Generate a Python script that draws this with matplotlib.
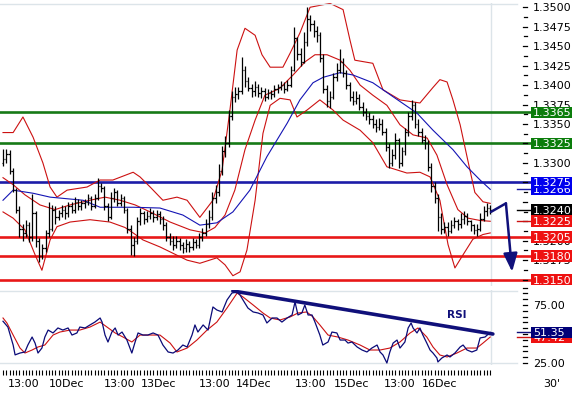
import numpy as np
import matplotlib
matplotlib.use("Agg")
import matplotlib.pyplot as plt
import matplotlib.transforms as mtransforms
from matplotlib.patches import Rectangle
from matplotlib.lines import Line2D

# ---------------- data (prices in pips above 1.3000) ----------------
BASE = 1.3
PIP = 1e-4

opens = [300,305,312,290,265,240,215,210,220,205,235,200,180,190,210,215,240,230,235,240,
         235,245,240,250,245,248,250,255,245,255,270,268,245,230,255,262,248,255,240,215,
         195,200,225,235,228,232,236,230,234,228,220,205,200,195,200,194,190,196,192,198,
         195,205,210,222,230,255,262,290,315,325,360,385,388,392,420,405,396,393,398,390,
         392,385,390,388,395,397,400,395,400,420,460,440,430,455,485,478,470,465,435,395,
         380,385,410,420,430,415,400,385,380,384,372,365,360,356,350,346,350,340,320,300,
         310,330,300,315,340,360,375,350,340,330,325,295,270,255,230,215,218,212,220,225,
         222,228,232,225,220,214,215,228,238,242]
highs = [318,318,316,293,268,244,222,226,224,260,238,204,196,214,250,246,244,240,246,244,
         250,250,256,254,252,254,260,258,260,281,274,270,248,262,268,265,260,258,242,220,
         205,230,242,238,238,242,240,240,238,232,224,210,206,206,204,198,202,200,204,202,
         210,216,228,240,262,272,298,322,335,368,392,398,398,436,425,410,402,405,402,398,
         396,395,394,400,402,405,404,406,424,475,462,448,468,501,490,484,476,468,440,400,
         392,415,428,446,435,420,404,392,392,388,378,370,366,362,356,358,356,345,326,318,
         338,332,320,345,366,381,378,356,345,336,330,300,276,260,236,224,224,226,230,228,
         236,238,236,226,222,222,235,244,248,246]
lows = [296,300,286,262,236,205,200,205,198,200,192,173,176,186,205,212,222,226,230,228,
        230,236,236,240,240,242,246,240,242,252,262,240,225,228,250,244,245,236,210,182,
        180,196,220,222,224,228,224,226,222,214,200,194,188,190,188,184,186,186,188,190,
        190,200,206,216,226,248,258,285,308,320,355,378,382,388,398,392,385,386,385,384,
        380,382,382,385,390,394,390,392,398,418,432,425,428,450,470,462,455,430,390,372,
        370,382,405,415,410,395,380,375,376,368,360,355,350,345,340,342,336,315,294,296,
        305,294,296,310,335,355,345,334,325,318,290,262,248,212,208,210,206,210,216,214,
        216,222,220,212,208,206,212,225,232,234]
closes = [305,312,290,265,240,215,210,220,205,235,200,180,190,210,215,240,230,235,240,235,
          245,240,250,245,248,250,255,245,255,270,268,245,230,255,262,248,255,240,215,195,
          200,225,235,228,232,236,230,234,228,220,205,200,195,200,194,190,196,192,198,195,
          205,210,222,230,255,262,290,315,325,360,385,388,392,420,405,396,393,398,390,392,
          385,390,388,395,397,400,395,400,420,460,440,430,455,485,478,470,465,435,395,380,
          385,410,420,430,415,400,385,380,384,372,365,360,356,350,346,350,340,320,300,310,
          330,300,315,340,360,375,350,340,330,325,295,270,255,230,215,218,212,220,225,222,
          228,232,225,220,214,215,228,238,242,240]

# Bollinger bands (sampled at bar positions) and moving average
bb_up_x = [0,3.1,6.1,9.2,12.2,14.4,16.5,19.6,25.7,29.7,33.6,39.8,41.9,45.0,48.9,53.2,56.3,60.2,64.2,67.0,
           69.4,71.6,74.0,77.1,79.2,81.7,85.6,87.8,90.8,93.9,100.0,104.0,106.1,107.6,113.1,116.2,121.4,
           127.5,131.5,133.6,135.8,137.6,139.8,141.9,144.3,146.8,149.0]
bb_up = [339,339,359,333,300,269,256,265,269,278,278,288,282,269,252,256,252,230,252,291,
         368,445,473,464,439,423,423,441,467,500,505,497,458,432,428,394,381,
         377,397,407,404,381,349,308,262,250,248]
bb_mid_x = [0,3.1,6.7,11.3,15.9,20.5,26.6,31.2,35.8,40.4,45.0,51.1,57.2,61.8,64.8,67.9,70.9,74.0,77.1,80.1,
            84.7,88.7,92.4,95.4,99.1,103.1,106.1,109.2,113.1,117.4,121.4,125.4,129.7,132.7,135.8,139.1,
            142.2,145.9,149.0]
bb_mid = [281,272,259,246,240,246,252,256,252,246,237,224,214,210,217,233,265,317,355,387,
          396,413,430,439,439,432,419,400,387,374,349,336,332,310,272,240,
          229,226,225]
bb_lo_x = [0,3.1,6.7,9.8,11.9,14.4,16.5,20.5,26.6,32.7,37.3,39.8,42.8,48.0,56.3,60.2,65.4,67.9,70.3,72.5,
           74.6,77.1,79.5,81.7,84.7,87.8,89.9,93.0,96.9,100.9,104.0,109.2,113.1,117.4,123.5,127.5,130.6,
           133.6,136.1,138.2,140.7,143.7,146.8,149.0]
bb_lo = [237,229,214,182,162,201,218,224,227,224,217,210,201,192,175,171,178,169,155,160,
         188,252,338,374,383,381,359,368,381,368,355,342,326,295,287,288,282,
         252,195,165,182,202,208,210]
ma_x = [0,3.1,9.2,14.4,24.5,29.7,39.8,48.0,55.0,60.2,65.4,70.3,75.5,80.7,86.9,90.8,94.8,97.9,103.1,107.0,
        113.1,119.3,126.6,131.5,137.6,141.9,145.9,149.0]
ma = [252,265,261,256,252,243,243,242,233,220,223,237,265,308,351,381,403,410,416,413,
      403,385,364,342,317,295,278,266]

# horizontal levels
green_levels = [1.3365, 1.3325]
blue_levels = [1.3275]
red_levels = [1.3205, 1.3180, 1.3150]
ma_last = 1.3266
last_price = 1.3240
bb_mid_last = 1.3225

# forecast arrow (bar position, price)
fc_x = [149.2, 153.8, 155.7]
fc_y = [1.3237, 1.3248, 1.3160]

# RSI and its signal line
rsi_x = [0,1.5,3.1,3.7,5.2,6.7,7.6,8.9,9.8,10.7,11.9,12.8,13.8,15.3,16.8,18.3,19.9,21.1,22.6,23.5,
         25.1,26.6,28.1,29.7,30.3,31.2,32.1,33.3,34.3,35.2,36.4,37.9,39.4,40.4,41.3,42.8,44.3,45.9,47.4,48.9,
         50.5,52.0,53.5,55.0,56.3,57.8,58.7,59.6,61.2,62.7,64.2,65.4,67.0,68.5,70.0,71.6,72.5,73.4,74.9,76.5,
         78.0,79.5,80.7,82.3,83.8,85.3,86.9,88.4,89.3,90.2,91.4,92.3,93.3,94.5,95.4,96.9,97.8,99.4,100.6,102.1,
         103.1,104.6,105.5,106.7,108.3,109.8,111.3,112.8,114.4,115.3,116.2,117.4,118.3,119.3,120.5,121.4,122.9,
         123.9,124.8,125.4,126.6,127.5,128.4,129.6,130.6,131.5,132.7,133.0,134.2,135.8,136.7,138.2,139.8,140.7,
         141.9,143.4,144.9,145.9,147.4,149.0]
rsi = [61,56,40.5,32,33.6,34.5,40.5,47.4,42.2,33.6,37.9,47.4,53.4,50.9,55.2,53.4,55.2,49.1,50.9,56,
       55.2,57.8,60.3,63.8,60.3,49.1,43.1,51.7,55.2,49.1,51.7,44.8,33.6,43.1,50.9,49.1,49.1,50.9,49.1,40.5,
       34.5,33.6,36.2,40.5,38.8,49.1,57.8,51.7,57.8,53.4,73.3,70.7,69,79.3,85.3,86.2,83.6,79.3,72.4,69,
       68.1,66.4,59.5,63.8,63.8,60.3,63.8,66.4,77.6,66.4,68.1,75,66.4,66.4,60.3,49.1,40.5,43.1,51.7,50.9,
       44.8,44.8,42.2,43.1,38.8,36.2,34.5,37.9,40.5,34.5,31.9,25,34.5,42.2,44.8,37.9,43.1,
       55.2,59.5,55.2,50.9,55.2,49.1,42.2,36.2,33.6,29.3,25.9,29.3,31.9,30.2,33.6,38.8,40.5,
       36.2,34.5,36.2,46.6,47.4,51.35]
sig_x = [0,1.2,3.1,5.2,6.7,8.9,10.7,12.8,15.3,17.4,20.5,23.5,26.6,29.7,31.8,34.3,36.7,39.4,41.9,44.9,
         48.0,51.1,53.2,56.3,59.3,62.4,65.4,68.5,71.6,73.4,76.5,79.5,81.7,84.7,87.8,90.2,92.9,94.8,96.9,99.4,
         102.4,105.5,109.2,112.2,115.3,118.3,121.4,124.5,126.9,129.6,131.5,133.6,135.8,138.8,141.9,144.9,
         146.8,149.0]
sig = [63.8,59.5,49.1,37.9,33.6,36.2,38.8,40.5,49.1,51.7,53.4,53.4,56,60.3,56,50.9,47.4,43.1,49.1,49.1,
       49.1,42.2,34.5,37.9,44.8,53.4,60.3,72.4,85.3,81.9,75,68.1,63.8,62.1,64.7,68.1,69,64.7,57.8,49.1,
       47.4,44.8,40.5,36.2,36.2,37.9,43.1,50.9,55.2,47.4,38.8,31.9,30.2,33.6,37.9,37.9,
       42.2,47.4]
rsi_last = 51.35
sig_last = 47.42
rsi_trend_x = [70.3, 149.8]
rsi_trend = [87.1, 50.0]

# x-axis labels (bar positions)
xlab_pos = [6.4, 19.3, 35.8, 47.7, 64.8, 76.8, 94.2, 106.7, 121.4, 133.6]
xlab_txt = ["13:00", "10Dec", "13:00", "13Dec", "13:00", "14Dec", "13:00", "15Dec", "13:00", "16Dec"]

price_ticks = [1.3150 + 0.0025 * k for k in range(15)]
# scale labels that are fully hidden behind the value tags in the reference
hidden_price_labels = [1.3150, 1.3225, 1.3250, 1.3275, 1.3325]
rsi_ticks = list(range(25, 95, 5))
rsi_labels = [25, 75]

# ---------------- figure ----------------
W, H = 572, 393
fig = plt.figure(figsize=(W / 100, H / 100), dpi=100)
fig.patch.set_facecolor("white")
plt.rcParams["font.family"] = ["DejaVu Sans"]

XL = (-3 / 3.27, (531 - 3) / 3.27)
ax = fig.add_axes([0, 1 - 286 / H, 531 / W, 283 / H])
ax.set_xlim(*XL)
ax.set_ylim(1.31418, 1.35055)
ax.set_axis_off()

rax = fig.add_axes([0, 1 - 365 / H, 531 / W, 75 / H])
rax.set_xlim(*XL)
rax.set_ylim(23.28, 87.93)
rax.set_axis_off()

GRID = "#dce4e9"
NAVY = "#10107a"
idx = np.arange(len(closes))
P = lambda a: np.asarray(a, float) * PIP + BASE

# light frame lines
fig.add_artist(Line2D([0, 517 / W], [1 - 3.5 / H] * 2, color=GRID, lw=1.0, zorder=1))
for r in [87.1, 25]:
    rax.plot([XL[0], (517 - 3) / 3.27], [r, r], color=GRID, lw=1.0, zorder=1)
last_x = idx[-1] + 0.2
ax.axvline(last_x, color=GRID, lw=1.0, zorder=1)
rax.axvline(last_x, color=GRID, lw=1.0, zorder=1)

# levels
for lv in green_levels:
    ax.axhline(lv, color="#177a17", lw=1.9, zorder=2)
for lv in blue_levels:
    ax.axhline(lv, color="#1c1ca8", lw=1.9, zorder=2)
for lv in red_levels:
    ax.axhline(lv, color="#e81818", lw=1.9, zorder=2)

# bands and MA
ax.plot(bb_up_x, P(bb_up), color="#cc1111", lw=0.8, zorder=3)
ax.plot(bb_mid_x, P(bb_mid), color="#cc1111", lw=0.8, zorder=3)
ax.plot(bb_lo_x, P(bb_lo), color="#cc1111", lw=0.8, zorder=3)
ax.plot(ma_x, P(ma), color="#1414b4", lw=0.8, zorder=3)

# OHLC bars
ax.vlines(idx, P(lows), P(highs), color="black", lw=0.9, zorder=4)
ax.hlines(P(opens), idx - 0.45, idx, color="black", lw=0.9, zorder=4)
ax.hlines(P(closes), idx, idx + 0.45, color="black", lw=0.9, zorder=4)

# forecast arrow
ax.plot(fc_x[:2], fc_y[:2], color=NAVY, lw=1.8, zorder=6, solid_capstyle="round")
ax.annotate("", xy=(fc_x[2], fc_y[2]), xytext=(fc_x[1], fc_y[1]),
            arrowprops=dict(arrowstyle="-|>,head_length=1.1,head_width=0.42", color=NAVY,
                            lw=1.8, shrinkA=0, shrinkB=0, mutation_scale=10), zorder=6)

# RSI
rax.plot(sig_x, sig, color="#cc1111", lw=0.8, zorder=3)
rax.plot(rsi_x, rsi, color="#0a0a78", lw=0.9, zorder=4)
rax.plot(rsi_trend_x, rsi_trend, color=NAVY, lw=2.6, zorder=5, solid_capstyle="round")
rax.text(138.8, 66.4, "RSI", color=NAVY, fontsize=7.6, fontweight="bold",
         ha="center", va="center")

# ---------------- right-hand scale ----------------
def fig_y(axis, v):
    return axis.transData.transform((0, v))[1] / fig.bbox.height

def tick(axis, v, x0=523, x1=527, color="black", lw=0.9):
    y = fig_y(axis, v)
    fig.add_artist(Line2D([x0 / W, x1 / W], [y, y], color=color, lw=lw, zorder=3))

def label(axis, v, txt, zorder=4):
    y = fig_y(axis, v)
    fig.text(533 / W, y, txt, fontsize=8, color="black", ha="left",
             va="center_baseline", zorder=zorder)

def tag(axis, v, txt, bg, z, mark=None):
    y = fig_y(axis, v)
    fig.add_artist(Rectangle((531 / W, y - 5.8 / H), 41 / W, 11.6 / H,
                             transform=fig.transFigure, facecolor=bg, edgecolor="none", zorder=z))
    fig.text(533 / W, y, txt, fontsize=8, color="white", ha="left",
             va="center_baseline", zorder=z + 0.1)
    if mark:
        fig.add_artist(Line2D([517 / W, 530 / W], [y, y], color=mark, lw=1.0, zorder=z))

for k, v in enumerate(price_ticks):
    tick(ax, v)
    if not any(abs(v - h) < 1e-6 for h in hidden_price_labels):
        label(ax, v, f"{v:.4f}")
    if k < len(price_ticks) - 1:
        tick(ax, v + 0.00125, 524, 527)

for v in rsi_ticks:
    tick(rax, v)
for v in rsi_labels:
    label(rax, v, f"{v:.2f}")

tag(ax, ma_last, f"{ma_last:.4f}", "#0000ee", 6, mark="#1c1ca8")
for lv in blue_levels:
    tag(ax, lv, f"{lv:.4f}", "#0000ee", 7)
for lv in green_levels:
    tag(ax, lv, f"{lv:.4f}", "#0b7d0b", 7)
tag(ax, bb_mid_last, f"{bb_mid_last:.4f}", "#ee1111", 6, mark="#cc1111")
tag(ax, last_price, f"{last_price:.4f}", "#000000", 7, mark="#000000")
for lv in red_levels:
    tag(ax, lv, f"{lv:.4f}", "#ee1111", 7)
tag(rax, sig_last, f"{sig_last:.2f}", "#ee1111", 6, mark="#cc1111")
tag(rax, rsi_last, f"{rsi_last:.2f}", "#000078", 7, mark=NAVY)

# ---------------- time axis ----------------
bt = mtransforms.blended_transform_factory(rax.transData, fig.transFigure)
rax.vlines(idx, 1 - 375 / H, 1 - 370 / H, color="black", lw=0.8,
           transform=bt, clip_on=False)
for p, t in zip(xlab_pos, xlab_txt):
    rax.text(p, 1 - 383 / H, t, transform=bt, fontsize=8, ha="center",
             va="center_baseline", clip_on=False)
fig.text(552 / W, 1 - 383 / H, "30'", fontsize=8, ha="center", va="center_baseline")

fig.savefig("out.png", dpi=100, facecolor="white")
